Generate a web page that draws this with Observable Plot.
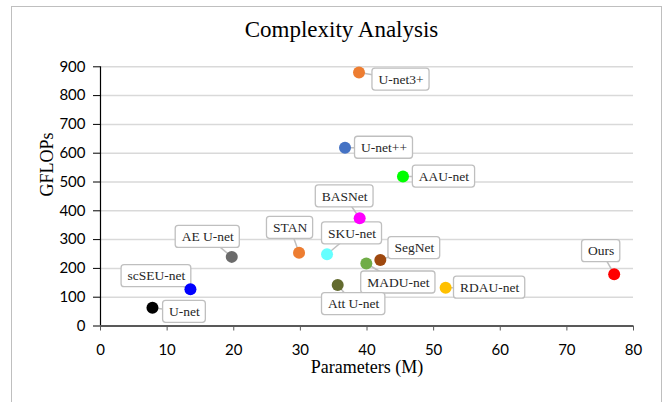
<!DOCTYPE html>
<html>
<head>
<meta charset="utf-8">
<script src="https://cdn.jsdelivr.net/npm/d3@7"></script>
<script src="https://cdn.jsdelivr.net/npm/@observablehq/plot@0.6"></script>
<style>
  body { margin: 0; background: #fff; }
  #wrap { position: relative; width: 670px; height: 402px; overflow: hidden; background: #fff; }
  #border { position: absolute; left: 11px; top: 6px; width: 651px; height: 420px; border: 1px solid #bfbfbf; box-sizing: border-box; pointer-events: none; }
  #title { height: 32px; padding-top: 17px; padding-left: 13px; text-align: center; font-family: "Liberation Serif", serif; font-size: 23px; line-height: normal; color: #000; }
  svg { display: block; }
</style>
</head>
<body>
<div id="wrap">
  <div id="title">Complexity Analysis</div>
  <div id="chart"></div>
  <div id="border"></div>
</div>
<script>
// ---- data ----
const models = ["U-net", "scSEU-net", "AE U-net", "STAN", "SKU-net", "BASNet", "U-net3+", "U-net++", "AAU-net", "SegNet", "MADU-net", "Att U-net", "RDAU-net", "Ours"];
const params = [7.8, 13.5, 19.7, 29.8, 34.0, 38.9, 38.8, 36.7, 45.4, 42.0, 39.9, 35.6, 51.8, 77.1];
const gflops = [63, 128, 240, 254, 249, 374, 880, 619, 519, 229, 217, 142, 133, 180];
const colors = ["#000000", "#0000ff", "#6b6b6b", "#ed7d31", "#66ffff", "#ff00ff", "#ed7d31", "#4472c4", "#00ff00", "#9e480e", "#70ad47", "#636b2f", "#ffc000", "#ff0000"];
const xTicks = [0, 10, 20, 30, 40, 50, 60, 70, 80];
const yTicks = [0, 100, 200, 300, 400, 500, 600, 700, 800, 900];

// ---- layout: callout label offsets from each point, in pixels ----
const labelDx = [32, -34, -24, -9, 25, -15, 42, 39, 41, 34, 32, 16, 44, -13];
const labelDy = [4, -13, -20, -25, -21, -22, 7, 0, 0, -12, 19, 19, 0, -23];

const W = 670, H = 352;
const mL = 100, mR = 37, mT = 17.3, mB = 75.5;
const xDomain = [0, 80], yDomain = [0, 900];
const kx = (W - mL - mR) / (xDomain[1] - xDomain[0]);
const ky = (H - mT - mB) / (yDomain[1] - yDomain[0]);

const labelFont = "13.5px 'Liberation Serif'";
const ctx = document.createElement("canvas").getContext("2d");
ctx.font = labelFont;

const points = models.map((m, i) => ({ model: m, x: params[i], y: gflops[i], color: colors[i] }));
const labels = points.map((p, i) => {
  const lx = p.x + labelDx[i] / kx;
  const ly = p.y - labelDy[i] / ky;
  const w = ctx.measureText(p.model).width + 12;
  const h = 22;
  return { ...p, lx, ly, x1: lx - w / 2 / kx, x2: lx + w / 2 / kx, y1: ly - h / 2 / ky, y2: ly + h / 2 / ky };
});

const plot = Plot.plot({
  width: W,
  height: H,
  marginLeft: mL,
  marginRight: mR,
  marginTop: mT,
  marginBottom: mB,
  x: { domain: xDomain, label: null },
  y: { domain: yDomain, label: null },
  color: { type: "identity" },
  style: { background: "transparent", overflow: "visible" },
  marks: [
    Plot.gridY(yTicks.slice(1), { stroke: "#d9d9d9", strokeOpacity: 1, strokeWidth: 1.5 }),
    Plot.axisY(yTicks, { tickSize: 7, tickPadding: 8, fontSize: 15, fontFamily: "Lato", stroke: "#000", color: "#000", label: null }),
    Plot.axisX(xTicks, { tickSize: 5, tickPadding: 13, fontSize: 15, fontFamily: "Lato", stroke: "#595959", color: "#000", label: null }),
    Plot.ruleX([0], { stroke: "#000", strokeWidth: 1.2 }),
    Plot.ruleY([0], { stroke: "#595959", strokeWidth: 2 }),
    Plot.link(labels, { x1: "x", y1: "y", x2: "lx", y2: "ly", stroke: "#bfbfbf", strokeWidth: 1.5 }),
    Plot.rect(labels, { x1: "x1", x2: "x2", y1: "y1", y2: "y2", fill: "#fff", stroke: "#bfbfbf", strokeWidth: 1.3, rx: 3 }),
    Plot.text(labels, { x: "lx", y: "ly", text: "model", fontSize: 13.5, fontFamily: "Liberation Serif", fill: "#262626" }),
    Plot.dot(points, { x: "x", y: "y", fill: "color", r: 6 }),
    Plot.text(["GFLOPs"], { frameAnchor: "left", dx: -53, rotate: -90, text: d => d, fontSize: 18, fontFamily: "Liberation Serif", fill: "#000" }),
    Plot.text(["Parameters (M)"], { frameAnchor: "bottom", dy: 47, text: d => d, fontSize: 18, fontFamily: "Liberation Serif", fill: "#000" })
  ]
});
document.getElementById("chart").appendChild(plot);
</script>
</body>
</html>
